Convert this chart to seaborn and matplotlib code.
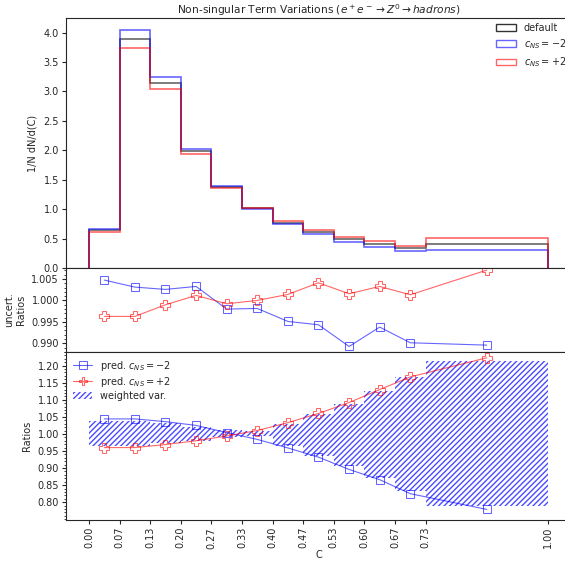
import numpy as np
import matplotlib
matplotlib.use("Agg")
import matplotlib.pyplot as plt
import seaborn as sns
from matplotlib.patches import Patch
from matplotlib.ticker import AutoMinorLocator

sns.set_style("ticks")
plt.rcParams['font.family'] = ['DejaVu Sans']
plt.rcParams['font.size'] = 7

# bin edges of the C distribution
edges = [0.0, 0.0667, 0.1333, 0.2, 0.2667, 0.3333, 0.4, 0.4667, 0.5333, 0.6, 0.6667, 0.7333, 1.0]
tick_labels = ["0.00", "0.07", "0.13", "0.20", "0.27", "0.33", "0.40", "0.47", "0.53", "0.60", "0.67", "0.73", "1.00"]

# normalised distributions
hist_default = [0.639, 3.892, 3.140, 1.986, 1.380, 1.012, 0.768, 0.607, 0.490, 0.407, 0.333, 0.407]
hist_minus = [0.656, 4.045, 3.248, 2.031, 1.386, 1.000, 0.750, 0.573, 0.448, 0.356, 0.282, 0.311]
hist_plus = [0.611, 3.740, 3.038, 1.941, 1.364, 1.025, 0.797, 0.640, 0.531, 0.452, 0.381, 0.514]

# uncertainty ratios
unc_minus = [1.00475, 1.00311, 1.00257, 1.00327, 0.99798, 0.99813, 0.99510, 0.99432, 0.98926, 0.99378, 0.99012, 0.98957]
unc_plus = [0.99627, 0.99627, 0.99899, 1.00117, 0.99922, 1.00000, 1.00140, 1.00412, 1.00156, 1.00327, 1.00132, 1.00708]

# prediction ratios
pred_minus = [1.044, 1.044, 1.036, 1.025, 1.004, 0.984, 0.959, 0.932, 0.896, 0.866, 0.825, 0.779]
pred_plus = [0.960, 0.960, 0.969, 0.980, 0.994, 1.010, 1.033, 1.060, 1.092, 1.130, 1.167, 1.223]

# weighted variation band
var_lo = [0.965, 0.965, 0.972, 0.980, 0.990, 0.993, 0.966, 0.936, 0.907, 0.872, 0.834, 0.789]
var_hi = [1.039, 1.037, 1.031, 1.021, 1.011, 1.008, 1.030, 1.058, 1.088, 1.126, 1.166, 1.214]

edges = np.array(edges)
centers = (edges[:-1] + edges[1:]) / 2
widths = np.diff(edges)

fig = plt.figure(figsize=(5.65, 5.63), dpi=100)
ax1 = fig.add_axes([0.1168, 0.524, 0.8938, 0.4441])
ax2 = fig.add_axes([0.1168, 0.3748, 0.8938, 0.1492], sharex=ax1)
ax3 = fig.add_axes([0.1168, 0.0764, 0.8938, 0.2984], sharex=ax1)

# top: distributions
for vals, col in [(hist_default, 'black'), (hist_minus, 'blue'), (hist_plus, 'red')]:
    ax1.hist(centers, bins=edges, weights=vals, histtype='step', color=col, alpha=0.6, lw=1.2)
ax1.set_ylim(0, 4.25)
ax1.set_ylabel("1/N dN/d(C)")
ax1.set_title(r"Non-singular Term Variations ($e^+e^- \rightarrow Z^0 \rightarrow hadrons$)", fontsize=7.7, pad=1)
handles = [Patch(facecolor='none', edgecolor='black', alpha=0.8, label='default'),
           Patch(facecolor='none', edgecolor='blue', alpha=0.6, label=r'$c_{NS} = -2$'),
           Patch(facecolor='none', edgecolor='red', alpha=0.6, label=r'$c_{NS} = +2$')]
ax1.legend(handles=handles, loc='upper right', frameon=False, fontsize=7, handlelength=2.0,
           handleheight=0.7, labelspacing=0.45, borderaxespad=0.1)

# middle: uncertainty ratios
sns.lineplot(x=centers, y=unc_minus, ax=ax2, color='blue', marker='s', markersize=6,
             markerfacecolor='none', markeredgecolor='blue', lw=0.8, alpha=0.6)
sns.lineplot(x=centers, y=unc_plus, ax=ax2, color='red', marker='P', markersize=7,
             markerfacecolor='none', markeredgecolor='red', lw=0.8, alpha=0.6)
ax2.set_ylim(0.98797, 1.00757)
ax2.set_yticks([0.990, 0.995, 1.000, 1.005])
ax2.set_ylabel("uncert.\nRatios")
ax2.yaxis.set_minor_locator(AutoMinorLocator())

# bottom: prediction ratios
ax3.bar(edges[:-1], np.array(var_hi) - np.array(var_lo), bottom=var_lo, width=widths, align='edge',
        fill=False, hatch='//////', edgecolor='blue', lw=0, alpha=0.7, label='weighted var.')
sns.lineplot(x=centers, y=pred_minus, ax=ax3, color='blue', marker='s', markersize=6,
             markerfacecolor='none', markeredgecolor='blue', lw=0.8, alpha=0.6,
             label=r'pred. $c_{NS} = -2$')
sns.lineplot(x=centers, y=pred_plus, ax=ax3, color='red', marker='P', markersize=7,
             markerfacecolor='none', markeredgecolor='red', lw=0.8, alpha=0.6,
             label=r'pred. $c_{NS} = +2$')
ax3.set_ylim(0.748, 1.240)
ax3.set_yticks([0.80, 0.85, 0.90, 0.95, 1.00, 1.05, 1.10, 1.15, 1.20])
ax3.set_ylabel("Ratios")
ax3.yaxis.set_minor_locator(AutoMinorLocator())
h, l = ax3.get_legend_handles_labels()
order = [l.index(r'pred. $c_{NS} = -2$'), l.index(r'pred. $c_{NS} = +2$'), l.index('weighted var.')]
ax3.legend([h[i] for i in order], [l[i] for i in order], loc='upper left', frameon=False, fontsize=7,
           handlelength=2.0, labelspacing=0.2, borderaxespad=0.3, markerscale=0.9)

ax3.set_xlim(-0.05, 1.05)
ax3.set_xticks(edges)
ax3.set_xticklabels(tick_labels, rotation=90)
ax3.set_xlabel("C", labelpad=1)
for ax in (ax1, ax2):
    ax.tick_params(axis='x', bottom=False, labelbottom=False)
for ax in (ax1, ax2, ax3):
    ax.tick_params(labelsize=7, length=3, pad=2)
    ax.tick_params(which='minor', length=1.5)

fig.savefig("out.png", dpi=100)
